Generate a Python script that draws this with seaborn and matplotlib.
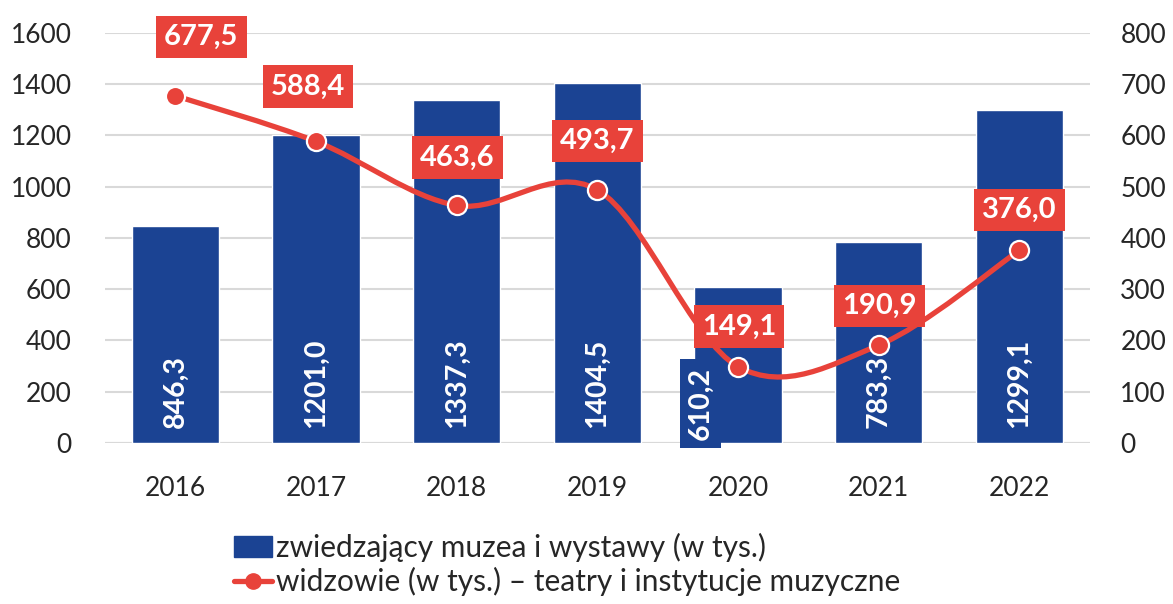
import numpy as np
import pandas as pd
import seaborn as sns
import matplotlib.pyplot as plt
from matplotlib.path import Path
from matplotlib.patches import PathPatch, Patch
from matplotlib.lines import Line2D

# dane
years = ['2016', '2017', '2018', '2019', '2020', '2021', '2022']
muzea = [846.3, 1201.0, 1337.3, 1404.5, 610.2, 783.3, 1299.1]
widzowie = [677.5, 588.4, 463.6, 493.7, 149.1, 190.9, 376.0]
left_ticks = [0, 200, 400, 600, 800, 1000, 1200, 1400, 1600]
right_ticks = [0, 100, 200, 300, 400, 500, 600, 700, 800]

BLUE = '#1B4393'
RED = '#E8423A'
GRID = '#D9D9D9'


def fmt(v):
    return f"{v:.1f}".replace('.', ',')


def smooth_path(xs, ys):
    # krzywa wygladzona jak w Excelu (Bezier przez punkty)
    pts = np.column_stack([xs, ys]).astype(float)
    n = len(pts)
    verts = [pts[0]]
    codes = [Path.MOVETO]
    for i in range(n - 1):
        p0 = pts[i - 1] if i > 0 else pts[i]
        p1 = pts[i]
        p2 = pts[i + 1]
        p3 = pts[i + 2] if i + 2 < n else pts[i + 1]
        c1 = p1 + (p2 - p0) / 6
        c2 = p2 - (p3 - p1) / 6
        verts += [c1, c2, p2]
        codes += [Path.CURVE4] * 3
    return Path(verts, codes)


sns.set_style('white')
plt.rcParams['font.family'] = ['Lato', 'DejaVu Sans']

df = pd.DataFrame({'rok': years, 'muzea': muzea, 'widzowie': widzowie})
pos = np.arange(len(years))

fig = plt.figure(figsize=(11.73, 6.04), dpi=100)
ax = fig.add_axes([0.0895, 0.2666, 0.8395, 0.6788])

sns.barplot(data=df, x='rok', y='muzea', color=BLUE, width=0.62,
            saturation=1, ax=ax, zorder=2)
ax.set_xlim(-0.5, len(years) - 0.5)
ax.set_ylim(0, 1600)
ax.set_yticks(left_ticks)
ax.yaxis.grid(True, color=GRID, linewidth=1.5, zorder=0)
ax.set_axisbelow(True)
ax.set_xlabel('')
ax.set_ylabel('')
for s in ax.spines.values():
    s.set_visible(False)
ax.tick_params(axis='y', length=0, pad=24, labelsize=19)
ax.tick_params(axis='x', length=0, pad=24, labelsize=19)
ax.axhline(0, color=GRID, linewidth=1.5, zorder=1)

# etykiety slupkow
for i, v in enumerate(muzea):
    if v < 700:
        ax.annotate(fmt(v), xy=(i, 0), xytext=(-27, 2), textcoords='offset points',
                    rotation=90, ha='center', va='bottom', color='white',
                    fontsize=20.5, fontweight='bold', zorder=5, annotation_clip=False,
                    bbox=dict(boxstyle='square,pad=0.28', fc=BLUE, ec='none'))
    else:
        ax.annotate(fmt(v), xy=(i, 0), xytext=(0, 11), textcoords='offset points',
                    rotation=90, ha='center', va='bottom', color='white',
                    fontsize=20.5, fontweight='bold', zorder=5)

ax2 = ax.twinx()
ax2.set_ylim(0, 800)
ax2.set_yticks(right_ticks)
for s in ax2.spines.values():
    s.set_visible(False)
ax2.tick_params(axis='y', length=0, pad=22, labelsize=19)

ax2.add_patch(PathPatch(smooth_path(pos, widzowie), fc='none', ec=RED,
                        lw=3.8, capstyle='round', zorder=3))
sns.scatterplot(x=pos, y=widzowie, color=RED, s=190, edgecolor='white',
                linewidth=1.6, ax=ax2, zorder=4, legend=False)

# przesuniecia etykiet (px)
offsets = [(26, 59), (-8, 55), (1, 48), (0, 49), (1, 40), (1, 39), (0, 40)]
for i, v in enumerate(widzowie):
    dx, dy = offsets[i]
    ax2.annotate(fmt(v), xy=(i, v), xytext=(dx * 0.72, dy * 0.72),
                 textcoords='offset points', ha='center', va='center',
                 color='white', fontsize=21, fontweight='bold', zorder=6,
                 annotation_clip=False,
                 bbox=dict(boxstyle='square,pad=0.28', fc=RED, ec='none'))

handles = [Patch(color=BLUE),
           Line2D([0], [0], color=RED, lw=3.8, marker='o', markersize=11,
                  markeredgecolor=RED)]
labels = ['zwiedzający muzea i wystawy (w tys.)',
          'widzowie (w tys.) – teatry i instytucje muzyczne']
fig.legend(handles, labels, loc='lower left', bbox_to_anchor=(0.189, -0.007),
           frameon=False, fontsize=21.5, handlelength=1.3, handletextpad=0.13,
           labelspacing=0.18, borderaxespad=0)

fig.savefig('out.png', dpi=100)
